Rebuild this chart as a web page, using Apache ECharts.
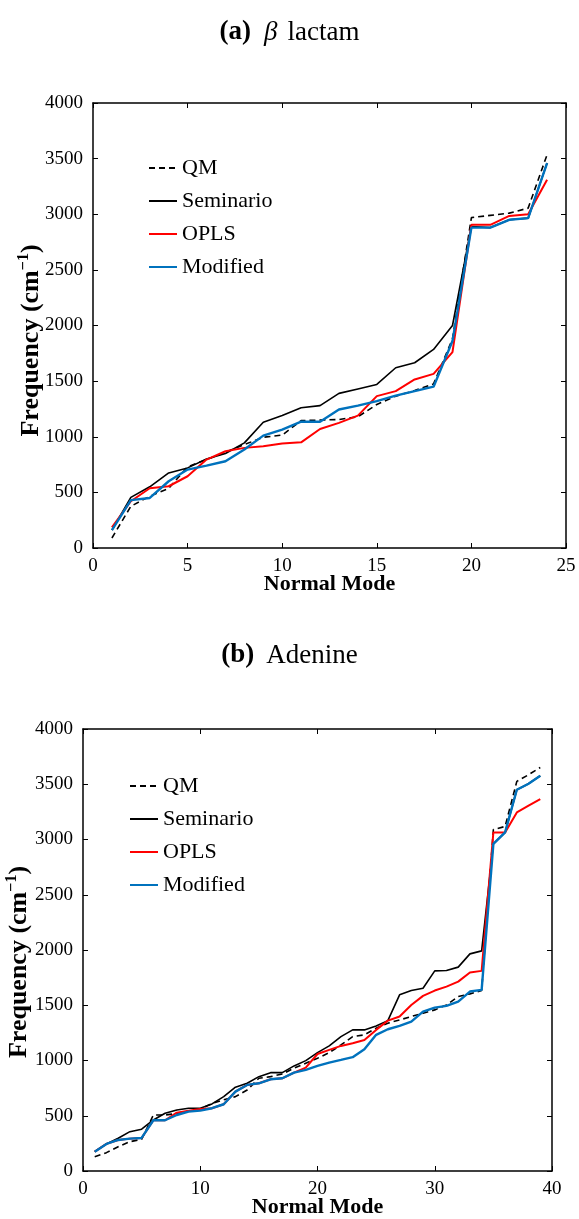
<!DOCTYPE html>
<html><head><meta charset="utf-8">
<script src="https://cdn.jsdelivr.net/npm/echarts@6/dist/echarts.min.js"></script>
<style>html,body{margin:0;padding:0;background:#fff}#c{width:579px;height:1219px}</style>
</head><body><div id="c"></div>
<script>
// ---- data ----
const seriesNames = ['QM', 'Seminario', 'OPLS', 'Modified'];

// (a) beta lactam, normal modes 1..24
const lactamQM   = [90, 375, 465, 535, 730, 795, 860, 930, 995, 1015, 1145, 1150, 1155, 1180, 1290, 1365, 1415, 1475, 1880, 2970, 2990, 3010, 3055, 3535];
const lactamSem  = [160, 455, 550, 675, 720, 800, 850, 945, 1130, 1190, 1260, 1280, 1390, 1430, 1470, 1620, 1665, 1785, 2000, 2890, 2880, 2950, 2965, 3460];
const lactamOPLS = [185, 420, 537, 555, 645, 795, 870, 900, 915, 940, 950, 1070, 1125, 1190, 1365, 1410, 1515, 1565, 1760, 2905, 2905, 2985, 3000, 3310];
const lactamMod  = [160, 430, 450, 600, 705, 740, 780, 885, 1010, 1065, 1135, 1135, 1245, 1280, 1320, 1370, 1410, 1450, 1860, 2880, 2880, 2950, 2965, 3460];

// (b) Adenine, normal modes 1..39
const adenQM   = [130, 166, 220, 265, 287, 507, 507, 520, 540, 560, 610, 645, 673, 733, 839, 854, 878, 930, 975, 1020, 1071, 1141, 1216, 1232, 1292, 1338, 1367, 1398, 1428, 1458, 1503, 1579, 1603, 1633, 3090, 3118, 3526, 3586, 3652];
const adenSem  = [175, 245, 296, 356, 378, 462, 523, 552, 568, 568, 607, 673, 758, 794, 854, 890, 890, 951, 999, 1071, 1132, 1216, 1277, 1277, 1313, 1361, 1594, 1633, 1654, 1811, 1814, 1845, 1965, 1992, 2961, 3064, 3450, 3505, 3577];
const adenOPLS = [175, 245, 281, 293, 299, 459, 459, 528, 546, 561, 568, 604, 718, 779, 794, 830, 839, 890, 936, 1059, 1096, 1132, 1156, 1186, 1277, 1361, 1398, 1503, 1585, 1633, 1669, 1714, 1796, 1811, 3064, 3064, 3245, 3306, 3366];
const adenMod  = [175, 245, 281, 293, 299, 459, 459, 507, 537, 546, 568, 604, 718, 779, 794, 830, 839, 890, 915, 951, 981, 1005, 1030, 1102, 1232, 1283, 1313, 1352, 1443, 1479, 1494, 1533, 1624, 1639, 2961, 3064, 3450, 3505, 3577];

const titleA = '(a)';
const titleA2 = 'β';
const titleA3 = 'lactam';
const titleB = '(b)';
const titleB2 = 'Adenine';
const xName = 'Normal Mode';

// ---- chart ----
const FONT = '"Liberation Serif", "Times New Roman", serif';
const colors = ['#000000', '#000000', '#ff0000', '#0072bd'];
const widths = [1.6, 1.6, 2, 2.4];
const types = [[6, 4], 'solid', 'solid', 'solid'];

function pairs(arr) { return arr.map((v, i) => [i + 1, v]); }

function axisPair(gridIndex, kind, max, interval, main) {
  return {
    type: 'value', gridIndex: gridIndex,
    position: kind === 'x' ? (main ? 'bottom' : 'top') : (main ? 'left' : 'right'),
    min: 0, max: max, interval: interval,
    axisLine: { show: true, onZero: false, lineStyle: { color: '#000', width: 1.5 } },
    axisTick: { show: true, inside: true, length: 5, lineStyle: { color: '#000', width: 1 } },
    axisLabel: { show: main, color: '#000', fontFamily: FONT, fontSize: 19, margin: kind === 'x' ? 9 : 10,
      formatter: (v) => String(v) },
    splitLine: { show: false }
  };
}

const yNameRich = {
  t: { fontFamily: FONT, fontSize: 26, fontWeight: 'bold', color: '#000' },
  s: { fontFamily: FONT, fontSize: 16, fontWeight: 'bold', color: '#000', padding: [0, 0, 15, 0] }
};
const yNameText = '{t|Frequency (cm}{s|−1}{t|)}';

const xAxes = [];
const yAxes = [];
[[0, 25, 5], [1, 40, 10]].forEach(([g, mx, iv]) => {
  const xm = axisPair(g, 'x', mx, iv, true);
  xm.name = xName; xm.nameLocation = 'middle'; xm.nameGap = 25; xm.nameMoveOverlap = false;
  xm.nameTextStyle = { fontFamily: FONT, fontSize: 22, fontWeight: 'bold', color: '#000', verticalAlign: 'top' };
  xAxes.push(xm, axisPair(g, 'x', mx, iv, false));
  const ym = axisPair(g, 'y', 4000, 500, true);
  ym.name = yNameText; ym.nameLocation = 'middle'; ym.nameRotate = 90; ym.nameGap = g === 0 ? 46 : 48; ym.nameMoveOverlap = false;
  ym.nameTextStyle = { rich: yNameRich, padding: g === 0 ? [0, 30, 0, 0] : [0, 24, 0, 0] };
  yAxes.push(ym, axisPair(g, 'y', 4000, 500, false));
});

function makeSeries(dataArrs, xi, yi) {
  return dataArrs.map((arr, k) => ({
    name: seriesNames[k], type: 'line', xAxisIndex: xi, yAxisIndex: yi,
    data: pairs(arr), symbol: 'none', silent: true, animation: false,
    lineStyle: { color: colors[k], width: widths[k], type: types[k] },
    itemStyle: { color: colors[k] }
  }));
}

const legendBase = {
  orient: 'vertical', itemWidth: 28, itemHeight: 14, itemGap: 11, padding: 0,
  itemStyle: { color: 'rgba(0,0,0,0)', borderWidth: 0, opacity: 0 },
  textStyle: { fontFamily: FONT, fontSize: 22, color: '#000', lineHeight: 22 },
  data: seriesNames, selectedMode: false
};

const option = {
  backgroundColor: '#fff',
  animation: false,
  title: [
    { text: '{b|' + titleA + '}{i|' + titleA2 + '}{n|' + titleA3 + '}', left: 'center', top: 14,
      textStyle: { rich: {
        b: { fontFamily: FONT, fontSize: 27, fontWeight: 'bold', color: '#000' },
        i: { fontFamily: FONT, fontSize: 27, fontWeight: 'normal', fontStyle: 'italic', color: '#000', padding: [0, 0, 0, 13] },
        n: { fontFamily: FONT, fontSize: 27, fontWeight: 'normal', color: '#000', padding: [0, 0, 0, 10] } } } },
    { text: '{b|' + titleB + '}{n|' + titleB2 + '}', left: 'center', top: 637,
      textStyle: { rich: {
        b: { fontFamily: FONT, fontSize: 27, fontWeight: 'bold', color: '#000' },
        n: { fontFamily: FONT, fontSize: 27, fontWeight: 'normal', color: '#000', padding: [0, 0, 0, 12] } } } }
  ],
  grid: [
    { left: 93, top: 103, width: 473, height: 445, outerBoundsMode: 'none', containLabel: false },
    { left: 83, top: 729, width: 469, height: 442, outerBoundsMode: 'none', containLabel: false }
  ],
  xAxis: xAxes,
  yAxis: yAxes,
  legend: [
    Object.assign({}, legendBase, { left: 148, top: 157 }),
    Object.assign({}, legendBase, { left: 129, top: 775 })
  ],
  series: [].concat(
    makeSeries([lactamQM, lactamSem, lactamOPLS, lactamMod], 0, 0),
    makeSeries([adenQM, adenSem, adenOPLS, adenMod], 2, 2)
  )
};

const chart = echarts.init(document.getElementById('c'), null, { renderer: 'canvas' });
chart.setOption(option);
</script>
</body></html>
